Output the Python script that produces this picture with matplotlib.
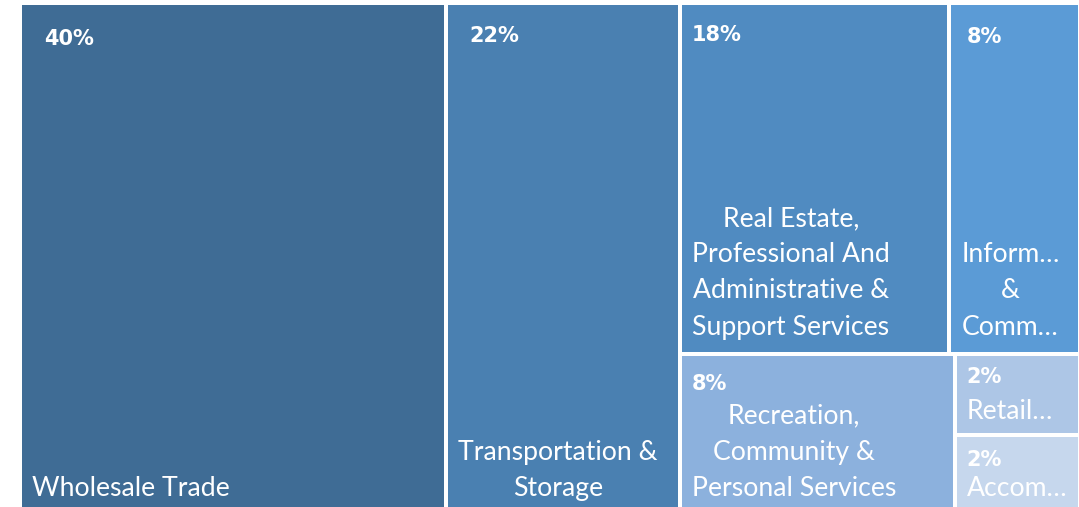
import matplotlib.pyplot as plt
from matplotlib.patches import Rectangle

# data
sectors = ["Wholesale Trade", "Transportation &\nStorage",
           "Real Estate,\nProfessional And\nAdministrative &\nSupport Services",
           "Inform…\n&\nComm…", "Recreation,\nCommunity &\nPersonal Services",
           "Retail…", "Accom…"]
shares = [40.2, 22.05, 17.61, 8.54, 7.97, 1.91, 1.72]
pct_labels = ["40%", "22%", "18%", "8%", "8%", "2%", "2%"]
colors = ["#3f6c95", "#4a80b1", "#508bc1", "#5b9bd6", "#8cb1dd", "#adc6e6", "#c6d7ed"]

W, H = 1060.0, 506.0  # plot area in px-like units
total = sum(shares)


def layout():
    rects = []
    x = 0.0
    # two full-height columns
    for v in shares[:2]:
        w = W * v / total
        rects.append((x, 0.0, w, H))
        x += w
    rw = W - x
    rest = sum(shares[2:])
    # top row: real estate + information
    top = shares[2] + shares[3]
    th = H * top / rest
    yb = H - th
    w1 = rw * shares[2] / top
    rects.append((x, yb, w1, th))
    rects.append((x + w1, yb, rw - w1, th))
    # bottom row: recreation + stacked retail/accom
    bh = yb
    bot = rest - top
    w2 = rw * shares[4] / bot
    rects.append((x, 0.0, w2, bh))
    small = shares[5] + shares[6]
    h5 = bh * shares[5] / small
    rects.append((x + w2, bh - h5, rw - w2, h5))
    rects.append((x + w2, 0.0, rw - w2, bh - h5))
    return rects


fig = plt.figure(figsize=(10.79, 5.07), dpi=100)
ax = fig.add_axes([20 / 1079, -2 / 507, W / 1079, H / 507])
ax.set_xlim(0, W)
ax.set_ylim(0, H)
ax.axis("off")

gap = 2.0
pct_pad = [22, 21, 10, 15, 10, 10, 10]
pct_top = [34, 31, 30, 32, 28, 21, 23]
name_bottom = [14, 14, 20, 20, 14, 17, 14]

for i, (x, y, w, h) in enumerate(layout()):
    ax.add_patch(Rectangle((x + gap, y + gap), w - 2 * gap, h - 2 * gap,
                           facecolor=colors[i], edgecolor="none"))
    ax.text(x + gap + pct_pad[i], y + h - gap - pct_top[i], pct_labels[i],
            color="white", fontsize=15, fontweight="bold", family="DejaVu Sans",
            ha="left", va="center")
    ax.text(x + gap + 10, y + gap + name_bottom[i] - 8, sectors[i], color="white",
            fontsize=19.2, family="Lato", ha="left", va="bottom",
            multialignment="center", linespacing=1.56)

fig.savefig("out.png", dpi=100)
